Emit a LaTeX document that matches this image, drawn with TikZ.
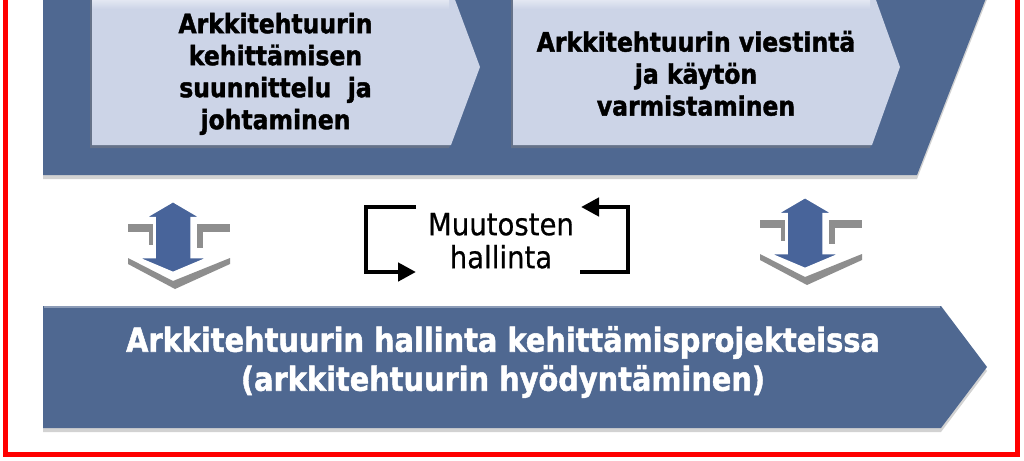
\documentclass[tikz,border=0pt]{standalone}
\usepackage{fontspec}
\setmainfont{DejaVu Sans}[BoldFeatures={FakeBold=1.6}]
\newfontfamily\cyclefont{DejaVu Sans}[FakeBold=0.6]
\usepackage{graphicx}
\usetikzlibrary{arrows.meta,shadows}
\definecolor{darkblue}{HTML}{4F6891}
\definecolor{lightbox}{HTML}{CCD4E7}
\definecolor{arrowblue}{HTML}{48649A}
\definecolor{framered}{HTML}{FF0000}
\definecolor{shadegray}{HTML}{8E8E8E}
\newcommand\sqz[2]{\scalebox{#1}[1]{#2}}
\tikzset{
  boxtext/.style={font=\fontsize{26.7}{32}\selectfont\bfseries, align=center, inner sep=0pt, anchor=north, text=black},
  bigtext/.style={font=\fontsize{33}{39}\selectfont\bfseries, align=center, inner sep=0pt, anchor=north, text=white},
  cycletext/.style={font=\cyclefont\fontsize{30.6}{33}\selectfont, align=center, inner sep=0pt, anchor=north, text=black},
  bracket/.style={line width=4.5pt, -{Triangle[length=18pt,width=18pt]}},
  panel/.style={fill=darkblue, drop shadow={shadow xshift=0pt, shadow yshift=-4pt, opacity=0.35}},
  lightpanel/.style={fill=lightbox, drop shadow={shadow xshift=-2pt, shadow yshift=-3pt, opacity=0.45}},
  updown/.pic={
    \fill[shadegray] (-45,23) rectangle (-20,31);
    \fill[shadegray] (-24,23) rectangle (-20,44);
    \fill[shadegray] (24,23) rectangle (57,31);
    \fill[shadegray] (24,23) rectangle (30,47);
    \fill[shadegray] (-45,57) -- (0,80) -- (57,57) -- (57,63) -- (2,88) -- (-45,63) -- cycle;
    \filldraw[fill=arrowblue, draw=white, line width=2.5pt] (0,0) -- (29,17) -- (18.5,17) -- (18.5,56) -- (38,56) -- (0,72) -- (-38,56) -- (-18.5,56) -- (-18.5,17) -- (-29,17) -- cycle;
  }
}
\begin{document}
\begin{tikzpicture}[x=1pt,y=-1pt]
\useasboundingbox (0,0) rectangle (1024,460);
\clip (0,0) rectangle (1024,460);
\fill[white] (0,0) rectangle (1024,460);
% top dark chevron
\path[panel] (43,-30) -- (997,-30) -- (917,175) -- (43,175) -- cycle;
% light boxes
\path[lightpanel] (92,-11) -- (451,-11) -- (480,67) -- (451,145) -- (92,145) -- cycle;
\shade[top color=white, bottom color=lightbox] (92,-11) rectangle (449,9);
\path[lightpanel] (513,-11) -- (872,-11) -- (900,67) -- (872,145) -- (513,145) -- cycle;
\shade[top color=white, bottom color=lightbox] (513,-11) rectangle (870,9);
\node[boxtext] (plan) at (275.5,12.7) {\sqz{0.88}{Arkkitehtuurin}\\\sqz{0.88}{kehittämisen}\\\sqz{0.88}{suunnittelu\ \ ja}\\\sqz{0.88}{johtaminen}};
\node[boxtext] (comm) at (696,30.7) {\sqz{0.88}{Arkkitehtuurin viestintä}\\\sqz{0.88}{ja käytön}\\\sqz{0.88}{varmistaminen}};
% up-down arrows
\pic (arrL) at (173,201) {updown};
\pic (arrR) at (805,197) {updown};
% change management cycle
\node[cycletext] (change) at (501,212.7) {\sqz{0.9}{Muutosten}\\\sqz{0.9}{hallinta}};
\coordinate (l1) at (416,207);
\coordinate (l2) at (366,207);
\coordinate (l3) at (366,272);
\coordinate (l4) at (416,272);
\coordinate (r1) at (580,272);
\coordinate (r2) at (628,272);
\coordinate (r3) at (628,207);
\coordinate (r4) at (581,207);
\draw[bracket] (l1) -- (l2) -- (l3) -- (l4);
\draw[bracket] (r1) -- (r2) -- (r3) -- (r4);
% bottom chevron
\path[panel] (43,306) -- (941,306) -- (987,367) -- (941,428) -- (43,428) -- cycle;
\draw[white, opacity=0.35, line width=2pt] (44,307) -- (940,307);
\node[bigtext] (proj) at (503,326) {\sqz{0.873}{Arkkitehtuurin hallinta kehittämisprojekteissa}\\\sqz{0.873}{(arkkitehtuurin hyödyntäminen)}};
% red frame
\draw[framered, line width=5pt] (5,-20) rectangle (1017.5,454);
\end{tikzpicture}
\end{document}
